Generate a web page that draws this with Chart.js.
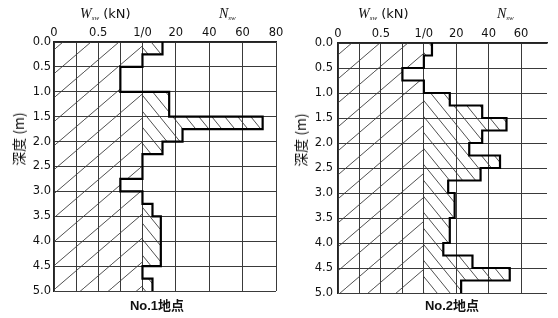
<!DOCTYPE html>
<html><head><meta charset="utf-8">
<script src="https://cdn.jsdelivr.net/npm/chart.js@4"></script>
<style>
html,body{margin:0;padding:0;background:#fff;}
#wrap{position:relative;width:558px;height:318px;overflow:hidden;background:#fff;}
canvas{position:absolute;top:0;}
.lbl{position:absolute;white-space:nowrap;color:#111;line-height:1;}
.head{font-family:"DejaVu Sans",sans-serif;font-size:13px;}
.head i{font-family:"Liberation Serif","DejaVu Serif",serif;font-size:14px;}
.head sub{font-family:"Liberation Serif",serif;font-style:italic;font-size:7px;vertical-align:-2px;}
.ytitle{font-family:"Noto Sans CJK JP",sans-serif;font-size:14px;transform:translate(-50%,-50%) rotate(-90deg);}
.ptitle{font-family:"Liberation Sans","Noto Sans CJK JP",sans-serif;font-weight:bold;font-size:13px;transform:translateX(-50%);}
</style></head>
<body>
<div id="wrap">
<canvas id="c1" width="290" height="318" style="left:0"></canvas>
<canvas id="c2" width="268" height="318" style="left:290px"></canvas>
<div class="lbl head" style="left:80px;top:7px"><i>W</i><sub>sw</sub> (kN)</div>
<div class="lbl head" style="left:219px;top:7px"><i>N</i><sub>sw</sub></div>
<div class="lbl head" style="left:358px;top:7px"><i>W</i><sub>sw</sub> (kN)</div>
<div class="lbl head" style="left:497px;top:7px"><i>N</i><sub>sw</sub></div>
<div class="lbl ytitle" style="left:18px;top:139px">深度 (m)</div>
<div class="lbl ytitle" style="left:300px;top:140px">深度 (m)</div>
<div class="lbl ptitle" style="left:157px;top:299px">No.1地点</div>
<div class="lbl ptitle" style="left:452px;top:299px">No.2地点</div>
</div>
<script>
// ---- data ----
const depthTop = [0,0.25,0.5,0.75,1.0,1.25,1.5,1.75,2.0,2.25,2.5,2.75,3.0,3.25,3.5,3.75,4.0,4.25,4.5,4.75];
const depthEnd = 5.0;
// No.1 site
const wsw1 = [1,1,0.75,0.75,1,1,1,1,1,1,1,0.75,1,1,1,1,1,1,1,1];
const nsw1 = [12,0,0,0,16,16,72,24,12,0,0,0,0,6,11,11,11,11,0,6];
// No.2 site
const wsw2 = [1,1,0.75,1,1,1,1,1,1,1,1,1,1,1,1,1,1,1,1,1];
const nsw2 = [5,0,0,0,16,36,51,36,28,47,35,15,19,19,16,16,12,30,53,23];
// ticks
const wTicks = [0,0.25,0.5,0.75,1.0];
const wTickLabels = ['0','','0.5','','1/0'];
const nTicks1 = [20,40,60,80];
const nTicks2 = [20,40,60];
const depthTicks = [0,0.5,1.0,1.5,2.0,2.5,3.0,3.5,4.0,4.5,5.0];

// shared axis: 0..1 = Wsw (kN), beyond 1 = Nsw (K half-turns per kN unit of width)
const K = 53;
const nToAxis = n => 1 + n / K;

function hatch(ctx, w, h, dir, color, lw){
  const c = document.createElement('canvas');
  c.width = w; c.height = h;
  const g = c.getContext('2d');
  g.strokeStyle = color; g.lineWidth = lw;
  g.beginPath();
  for (const off of [-w, 0, w]) {
    if (dir === '/') { g.moveTo(off, h); g.lineTo(off + w, 0); }
    else { g.moveTo(off, 0); g.lineTo(off + w, h); }
  }
  g.stroke();
  return ctx.createPattern(c, 'repeat');
}

function series(vals){
  const pts = depthTop.map((d,i) => ({x: vals[i], y: d}));
  pts.push({x: vals[vals.length-1], y: depthEnd});
  return pts;
}

function makePanel(id, wsw, nsw, nTicks, nMax, geo){
  const canvas = document.getElementById(id);
  const ctx = canvas.getContext('2d');
  const pw = hatch(ctx, 28, 24, '/', '#3c3c3c', 0.9);
  const pn = hatch(ctx, 13, 16, '\\', '#3c3c3c', 0.9);
  const tickVals = wTicks.concat(nTicks.map(nToAxis));
  const tickLabels = wTickLabels.concat(nTicks.map(String));
  const outline = wsw.map((w,i) => nsw[i] > 0 ? nToAxis(nsw[i]) : w);
  return new Chart(ctx, {
    type: 'line',
    data: { datasets: [
      { label: 'outline', data: series(outline), borderColor: '#000', borderWidth: 2.2,
        stepped: 'after', fill: false, pointRadius: 0 },
      { label: 'Nsw', data: series(nsw.map(nToAxis)), borderWidth: 0, borderColor: 'rgba(0,0,0,0)',
        backgroundColor: pn, stepped: 'after', fill: {value: 1}, pointRadius: 0 },
      { label: 'Wsw', data: series(wsw), borderWidth: 0, borderColor: 'rgba(0,0,0,0)',
        backgroundColor: pw, stepped: 'after', fill: 'origin', pointRadius: 0 }
    ]},
    options: {
      indexAxis: 'y',
      responsive: false, animation: false,
      layout: { padding: { left: 0, top: 0, right: geo.padRight, bottom: geo.padBottom } },
      plugins: { legend: {display: false}, tooltip: {enabled: false}, title: {display: false} },
      scales: {
        x: {
          type: 'linear', position: 'top', min: 0, max: nToAxis(nMax),
          afterBuildTicks: s => { s.ticks = tickVals.map(v => ({value: v})); },
          afterFit: s => { s.height = geo.top; },
          ticks: { autoSkip: false, maxRotation: 0, padding: 2, color: '#111',
            font: { family: 'DejaVu Sans', size: 11.5 },
            callback: (v, i) => tickLabels[i] },
          grid: { color: '#3a3a3a', lineWidth: 1, drawTicks: false },
          border: { color: '#222', width: 1.4 }
        },
        y: {
          type: 'linear', reverse: true, min: 0, max: depthEnd,
          afterBuildTicks: s => { s.ticks = depthTicks.map(v => ({value: v})); },
          afterFit: s => { s.width = geo.left; },
          ticks: { padding: geo.yPad, color: '#111', font: { family: 'DejaVu Sans', size: 11.5 },
            callback: v => v.toFixed(1) },
          grid: { color: '#3a3a3a', lineWidth: 1, drawTicks: false },
          border: { color: '#222', width: 1.2 }
        }
      }
    }
  });
}

makePanel('c1', wsw1, nsw1, nTicks1, 80, {left: 54, top: 42, padRight: 14, padBottom: 27, yPad: 3});
makePanel('c2', wsw2, nsw2, nTicks2, 76, {left: 48, top: 43, padRight: 11, padBottom: 25, yPad: 5});
</script>
</body></html>
